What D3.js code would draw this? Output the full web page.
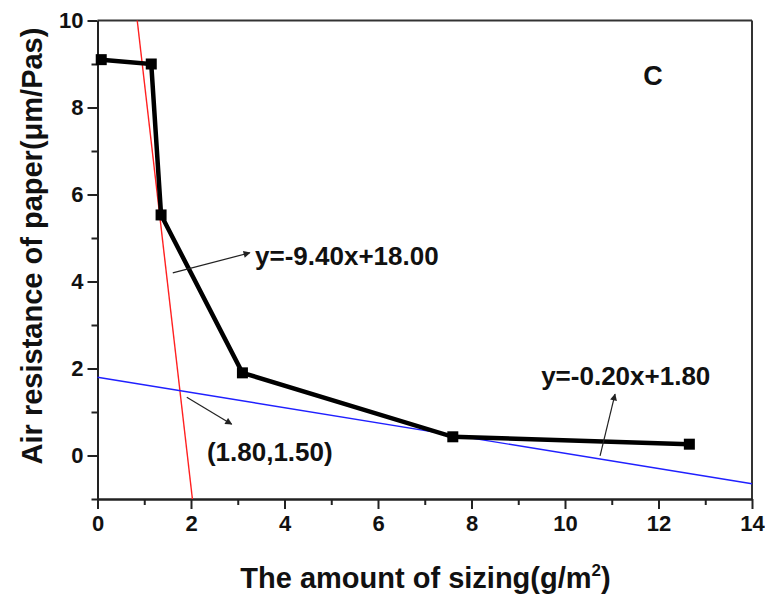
<!DOCTYPE html>
<html>
<head>
<meta charset="utf-8">
<script src="https://cdn.jsdelivr.net/npm/d3@7"></script>
<style>
  body { margin: 0; background: #fff; }
  text { font-family: "Liberation Sans", Arial, sans-serif; font-weight: bold; fill: #111; }
</style>
</head>
<body>
<div id="chart"></div>
<script>
// measured points (amount of sizing vs air resistance)
const sizing = [0.08, 1.15, 1.36, 3.1, 7.6, 12.66];
const resistance = [9.1, 9.0, 5.53, 1.9, 0.43, 0.26];

// fitted lines, drawn end to end
const redX = [0.85, 2.03];
const redY = [10, -1];
const blueX = [0, 14];
const blueY = [1.8, -0.65];

const xTicks = [0, 2, 4, 6, 8, 10, 12, 14];
const xMinor = [1, 3, 5, 7, 9, 11, 13];
const yTicks = [0, 2, 4, 6, 8, 10];
const yMinor = [-1, 1, 3, 5, 7, 9];

const labelText = ["y=-9.40x+18.00", "y=-0.20x+1.80", "(1.80,1.50)"];
const labelX = [3.37, 9.49, 2.34];
const labelY = [4.38, 1.62, -0.13];
const arrowFrom = [[1.61, 4.20], [10.75, -0.01], [1.91, 1.34]];
const arrowTo = [[3.26, 4.66], [11.07, 1.41], [2.87, 0.72]];

const width = 765, height = 597;
const margin = { top: 20.5, right: 13, bottom: 98, left: 97.5 };
const w = width - margin.left - margin.right;
const h = height - margin.top - margin.bottom;

const svgRoot = d3.select("#chart")
    .append("svg")
    .attr("width", width)
    .attr("height", height);

svgRoot.append("defs").append("marker")
    .attr("id", "arrow")
    .attr("viewBox", "0 0 10 10")
    .attr("refX", 9)
    .attr("refY", 5)
    .attr("markerWidth", 9)
    .attr("markerHeight", 7)
    .attr("markerUnits", "userSpaceOnUse")
    .attr("orient", "auto")
    .append("path")
    .attr("d", "M0,0 L10,5 L0,10 z")
    .attr("fill", "#222");

const svg = svgRoot.append("g")
    .attr("transform", `translate(${margin.left},${margin.top})`);

const x = d3.scaleLinear().domain([0, 14]).range([0, w]);
const y = d3.scaleLinear().domain([-1, 10]).range([h, 0]);

// frame top/right
svg.append("line").attr("x1", 0).attr("x2", w).attr("y1", 0).attr("y2", 0)
    .attr("stroke", "#333").attr("stroke-width", 2);
svg.append("line").attr("x1", w).attr("x2", w).attr("y1", 0).attr("y2", h)
    .attr("stroke", "#333").attr("stroke-width", 2);

// axes
const xAxis = svg.append("g")
    .attr("transform", `translate(0,${h})`)
    .call(d3.axisBottom(x).tickValues(xTicks).tickSize(10).tickSizeOuter(0).tickPadding(6));
svg.append("g")
    .attr("transform", `translate(0,${h})`)
    .call(d3.axisBottom(x).tickValues(xMinor).tickSize(6).tickSizeOuter(0).tickFormat(""));
const yAxis = svg.append("g")
    .call(d3.axisLeft(y).tickValues(yTicks).tickSize(10).tickSizeOuter(0).tickPadding(4));
svg.append("g")
    .call(d3.axisLeft(y).tickValues(yMinor).tickSize(6).tickSizeOuter(0).tickFormat(""));

svg.selectAll(".domain").attr("stroke", "#222").attr("stroke-width", 2);
svg.selectAll(".tick line").attr("stroke", "#222").attr("stroke-width", 2);
svg.selectAll(".tick text")
    .attr("font-size", "22px")
    .attr("font-family", "'Liberation Sans', Arial, sans-serif")
    .attr("font-weight", "bold")
    .attr("fill", "#111");

// fitted lines
const line = d3.line().x(d => x(d[0])).y(d => y(d[1]));
svg.append("path")
    .datum(d3.zip(redX, redY))
    .attr("d", line)
    .attr("fill", "none")
    .attr("stroke", "#ff2020")
    .attr("stroke-width", 1.4);
svg.append("path")
    .datum(d3.zip(blueX, blueY))
    .attr("d", line)
    .attr("fill", "none")
    .attr("stroke", "#2020ff")
    .attr("stroke-width", 1.4);

// data line + square markers
const pts = d3.zip(sizing, resistance);
svg.append("path")
    .datum(pts)
    .attr("d", line)
    .attr("fill", "none")
    .attr("stroke", "#000")
    .attr("stroke-width", 4.5)
    .attr("stroke-linejoin", "miter");
svg.selectAll(".pt")
    .data(pts)
    .enter()
    .append("rect")
    .attr("class", "pt")
    .attr("x", d => x(d[0]) - 5.5)
    .attr("y", d => y(d[1]) - 5.5)
    .attr("width", 11)
    .attr("height", 11)
    .attr("fill", "#000");

// annotations
svg.selectAll(".arrow")
    .data(d3.zip(arrowFrom, arrowTo))
    .enter()
    .append("line")
    .attr("class", "arrow")
    .attr("x1", d => x(d[0][0]))
    .attr("y1", d => y(d[0][1]))
    .attr("x2", d => x(d[1][0]))
    .attr("y2", d => y(d[1][1]))
    .attr("stroke", "#222")
    .attr("stroke-width", 1.2)
    .attr("marker-end", "url(#arrow)");

svg.selectAll(".ann")
    .data(labelText)
    .enter()
    .append("text")
    .attr("class", "ann")
    .attr("x", (d, i) => x(labelX[i]))
    .attr("y", (d, i) => y(labelY[i]))
    .attr("font-size", "26px")
    .text(d => d);

svg.append("text")
    .attr("x", x(11.88))
    .attr("y", y(8.52))
    .attr("text-anchor", "middle")
    .attr("font-size", "27px")
    .text("C");

// axis titles
const xTitle = svgRoot.append("text")
    .attr("x", 425.5)
    .attr("y", 588)
    .attr("text-anchor", "middle")
    .attr("font-size", "29px");
xTitle.append("tspan").text("The amount of sizing(g/m");
xTitle.append("tspan").attr("font-size", "17px").attr("dy", -12).text("2");
xTitle.append("tspan").attr("dy", 12).text(")");

svgRoot.append("text")
    .attr("transform", "translate(42,246) rotate(-90)")
    .attr("text-anchor", "middle")
    .attr("font-size", "29px")
    .text("Air resistance of paper(μm/Pas)");
</script>
</body>
</html>
